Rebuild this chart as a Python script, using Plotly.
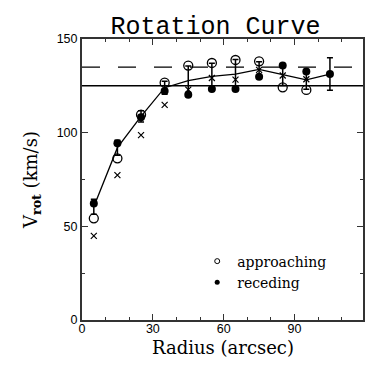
import plotly.graph_objects as go

# ---- data ----
radius = [5, 15, 25, 35, 45, 55, 65, 75, 85, 95, 105]
approach_radius = [5, 15, 25, 35, 45, 55, 65, 75, 85, 95]
approach_v = [54.3, 86.3, 109.6, 126.7, 135.8, 137.2, 138.8, 138.1, 124.2, 122.8]
recede_v = [62.2, 94.4, 108.2, 122.2, 120.3, 123.3, 123.3, 129.9, 135.8, 132.6, 131.3]
cross_radius = [5, 15, 25, 35, 45, 55, 65, 75, 85, 95]
cross_v = [44.9, 77.3, 98.7, 114.8, 123.0, 129.2, 128.3, 133.5, 130.5, 128.5]
mean_v = [60.5, 92.0, 108.7, 124.0, 127.8, 130.0, 131.3, 133.8, 131.0, 128.2, 131.3]
mean_err = [4.0, 4.0, 3.0, 3.5, 7.8, 7.0, 7.8, 4.1, 5.8, 5.0, 8.7]
v_solid = 125
v_dashed = 135
x_range = [0, 119]
y_range = [0, 150]

serif = "DejaVu Serif"
sans = "Liberation Sans"

fig = go.Figure()

fig.add_hline(y=v_solid, line=dict(color="black", width=1.5))
fig.add_hline(y=v_dashed, line=dict(color="black", width=1.3, dash="18px,18px"))

fig.add_trace(go.Scatter(
    x=radius, y=mean_v, mode="lines",
    line=dict(color="black", width=1.3),
    error_y=dict(type="data", array=mean_err, visible=True,
                 color="black", thickness=1.5, width=3),
    showlegend=False, hoverinfo="skip"))

fig.add_trace(go.Scatter(
    x=cross_radius, y=cross_v, mode="markers",
    marker=dict(symbol="x-thin-open", size=6, color="black",
                line=dict(color="black", width=1.2)),
    showlegend=False))

fig.add_trace(go.Scatter(
    x=approach_radius, y=approach_v, mode="markers",
    marker=dict(symbol="circle-open", size=9, color="black",
                line=dict(color="black", width=1.3)),
    showlegend=False))

fig.add_trace(go.Scatter(
    x=radius, y=recede_v, mode="markers",
    marker=dict(symbol="circle", size=8, color="black"),
    showlegend=False))

# legend entries
fig.add_trace(go.Scatter(
    x=[None], y=[None], mode="markers", name="approaching",
    marker=dict(symbol="circle-open", size=5, color="black",
                line=dict(color="black", width=1))))
fig.add_trace(go.Scatter(
    x=[None], y=[None], mode="markers", name="receding",
    marker=dict(symbol="circle", size=5, color="black")))

axis_common = dict(
    showline=True, linecolor="#333", linewidth=2, mirror="ticks",
    ticks="inside", ticklen=6, tickwidth=1, tickcolor="#333",
    showgrid=False, zeroline=False,
    tickfont=dict(family=sans, size=12.5, color="black"),
)

fig.update_xaxes(
    range=x_range, tickvals=[0, 30, 60, 90],
    ticklabelstandoff=-4,
    minor=dict(dtick=10, tick0=0, ticks="inside", ticklen=3, tickcolor="#333", showgrid=False),
    **axis_common)
fig.update_yaxes(
    range=y_range, tickvals=[0, 50, 100, 150],
    minor=dict(dtick=25, tick0=0, ticks="inside", ticklen=3, tickcolor="#333", showgrid=False),
    title=dict(text="V<sub><b>rot</b></sub> (km/s)", font=dict(family=serif, size=18, color="black"), standoff=14),
    **axis_common)

fig.add_annotation(
    text="Radius (arcsec)", xref="paper", yref="paper", x=0.5, y=0,
    xanchor="center", yanchor="top", yshift=-15, showarrow=False,
    font=dict(family=serif, size=18, color="black"))

fig.update_layout(
    width=374, height=365,
    margin=dict(l=74, r=19, t=31, b=53),
    paper_bgcolor="white", plot_bgcolor="white",
    title=dict(text="Rotation Curve", x=0.555, xanchor="center",
               y=1 - 17 / 365, yanchor="middle",
               font=dict(family="Liberation Mono", size=25, color="black")),
    legend=dict(x=0.41, y=0.265, xanchor="left", yanchor="top",
                bgcolor="rgba(0,0,0,0)", borderwidth=0,
                font=dict(family=serif, size=14, color="black"),
                itemwidth=30),
    showlegend=True,
)

fig.write_html("out.html")
